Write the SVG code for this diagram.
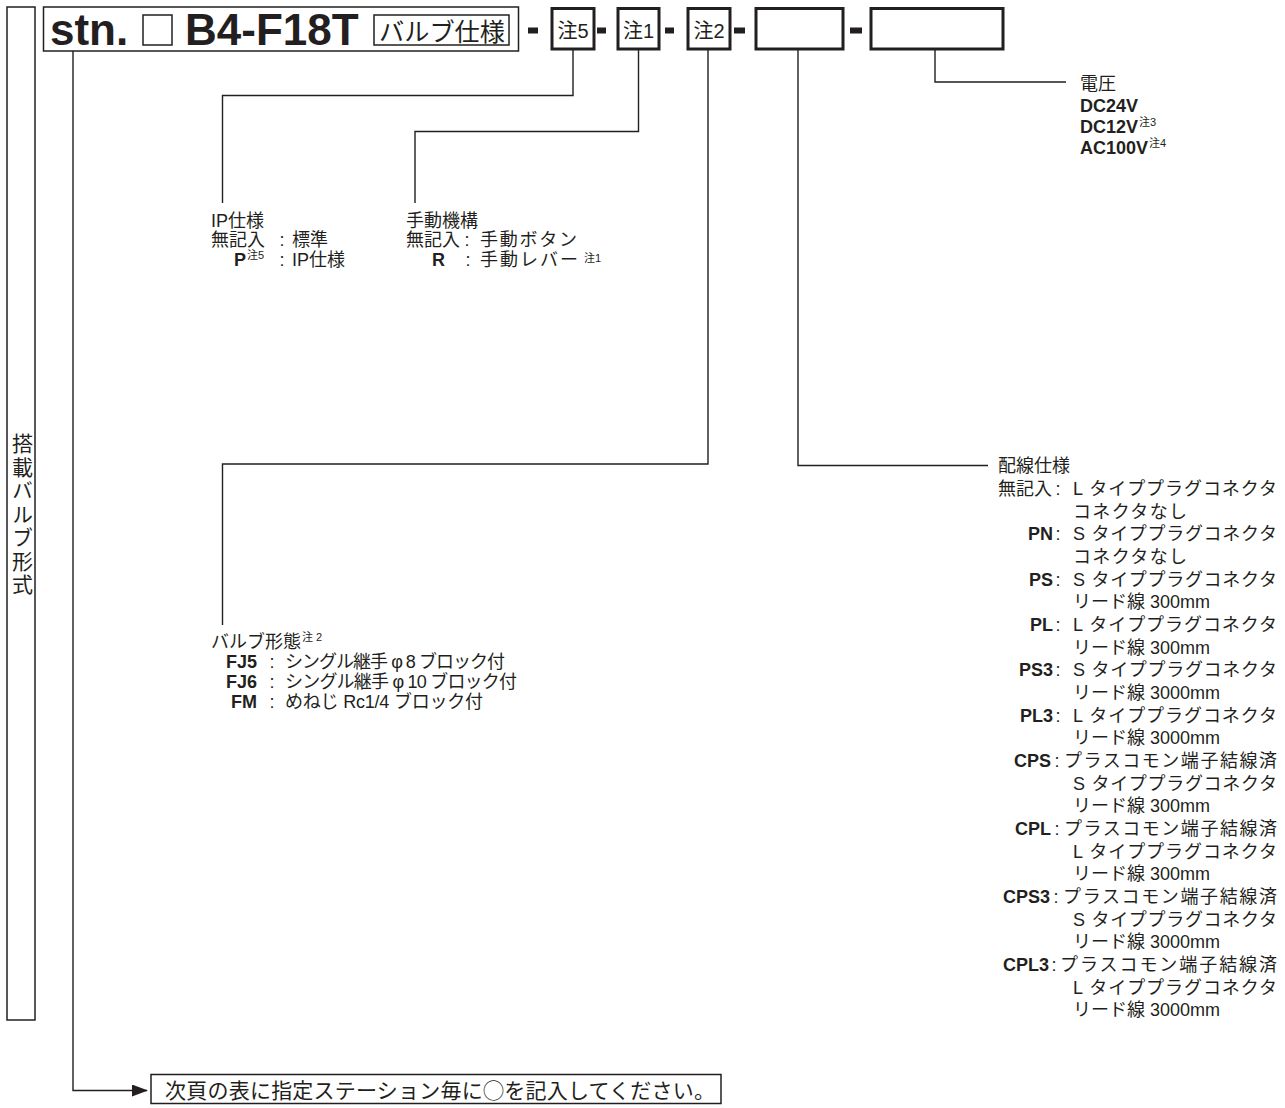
<svg xmlns="http://www.w3.org/2000/svg" width="1285" height="1108" viewBox="0 0 1285 1108">
<style>
text{font-family:"Liberation Sans","Noto Sans CJK JP",sans-serif;fill:#231f20}
.t{font-size:18px}
.b{font-weight:bold}
.c{font-size:18px;text-anchor:middle}
.e{text-anchor:end}
.sup{font-size:11px;font-weight:normal}
.ln{fill:none;stroke:#231f20;stroke-width:1.4}
.thick{fill:#fff;stroke:#231f20;stroke-width:3}
.thin{fill:#fff;stroke:#231f20;stroke-width:1.5}
.dash{fill:#231f20}
</style>
<defs>
<marker id="ah" markerWidth="16" markerHeight="12" refX="15" refY="6" orient="auto" markerUnits="userSpaceOnUse">
<path d="M0,0 L16,6 L0,12 Z" fill="#231f20"/>
</marker>
</defs>
<rect width="1285" height="1108" fill="#fff"/>

<g id="connectors">
<polyline class="ln" points="573,50 573,95.5 222.5,95.5 222.5,203"/>
<polyline class="ln" points="638.5,50 638.5,131.5 415,131.5 415,203"/>
<polyline class="ln" points="708,50 708,464 222.5,464 222.5,625"/>
<polyline class="ln" points="798,50 798,465.5 988,465.5"/>
<polyline class="ln" points="935,50 935,82 1066,82"/>
<polyline class="ln" points="73,50 73,1090.5 147,1090.5" stroke-width="2" marker-end="url(#ah)"/>
</g>

<g id="side-label">
<rect class="thin" x="7" y="7" width="28" height="1013"/>
<text x="21" y="433" font-size="21" writing-mode="vertical-rl" letter-spacing="2.5">搭載バルブ形式</text>
</g>

<g id="model-code">
<rect class="thin" x="43.5" y="7" width="475" height="44" stroke-width="2"/>
<text x="50" y="45" font-size="44" class="b">stn.</text>
<rect class="thin" x="143" y="15" width="29" height="30"/>
<text x="185" y="45" font-size="44" class="b">B4-F18T</text>
<rect class="thin" x="374" y="15" width="135" height="30"/>
<text x="379" y="41" font-size="25" textLength="126" lengthAdjust="spacingAndGlyphs">バルブ仕様</text>
</g>

<g id="dashes">
<rect class="dash" x="528" y="27.5" width="10" height="6"/>
<rect class="dash" x="597" y="27.5" width="9" height="6"/>
<rect class="dash" x="665" y="27.5" width="9" height="6"/>
<rect class="dash" x="734" y="27.5" width="11" height="6"/>
<rect class="dash" x="850" y="27.5" width="12" height="6"/>
</g>

<g id="box-note5">
<rect class="thick" x="552" y="8.5" width="42" height="40.5"/>
<text x="573" y="38" font-size="20" text-anchor="middle">注5</text>
</g>
<g id="box-note1">
<rect class="thick" x="618" y="8.5" width="41" height="40.5"/>
<text x="638.5" y="38" font-size="20" text-anchor="middle">注1</text>
</g>
<g id="box-note2">
<rect class="thick" x="688" y="8.5" width="42" height="40.5"/>
<text x="709" y="38" font-size="20" text-anchor="middle">注2</text>
</g>
<g id="box-wiring">
<rect class="thick" x="756" y="8.5" width="87" height="40.5"/>
</g>
<g id="box-voltage">
<rect class="thick" x="871" y="8.5" width="132" height="40.5"/>
</g>

<g id="voltage">
<text x="1080" y="90" class="t">電圧</text>
<text x="1080" y="112" font-size="18" class="b">DC24V</text>
<text x="1080" y="133" font-size="18" class="b">DC12V<tspan class="sup" dx="1" dy="-7">注3</tspan></text>
<text x="1080" y="154" font-size="18" class="b">AC100V<tspan class="sup" dx="1" dy="-7">注4</tspan></text>
</g>

<g id="ip-spec">
<text x="211" y="227" class="t">IP仕様</text>
<text x="211" y="246" class="t">無記入</text>
<text x="282" y="246" class="c">:</text>
<text x="292" y="246" class="t">標準</text>
<text x="234" y="266" class="t b">P<tspan class="sup" dx="1" dy="-7">注5</tspan></text>
<text x="282" y="266" class="c">:</text>
<text x="292" y="266" class="t">IP仕様</text>
</g>

<g id="manual">
<text x="406" y="227" class="t">手動機構</text>
<text x="406" y="246" class="t">無記入</text>
<text x="467" y="246" class="c">:</text>
<text x="480" y="246" class="t" textLength="97" lengthAdjust="spacing">手動ボタン</text>
<text x="432" y="266" class="t b">R</text>
<text x="468" y="266" class="c">:</text>
<text x="480" y="266" class="t" textLength="98" lengthAdjust="spacing">手動レバー</text>
<text x="584" y="262" class="sup">注1</text>
</g>

<g id="valve-form">
<text x="211" y="648" class="t">バルブ形態<tspan class="sup" dx="1" dy="-7">注 2</tspan></text>
<text x="257" y="668" class="t b e">FJ5</text>
<text x="272" y="668" class="c">:</text>
<text x="285" y="668" class="t" textLength="220" lengthAdjust="spacing">シングル継手 φ 8 ブロック付</text>
<text x="257" y="688" class="t b e">FJ6</text>
<text x="272" y="688" class="c">:</text>
<text x="285" y="688" class="t" textLength="232" lengthAdjust="spacing">シングル継手 φ 10 ブロック付</text>
<text x="257" y="708" class="t b e">FM</text>
<text x="272" y="708" class="c">:</text>
<text x="285" y="708" class="t" textLength="198" lengthAdjust="spacing">めねじ Rc1/4 ブロック付</text>
</g>

<g id="wiring">
<text x="998" y="472" class="t">配線仕様</text>
<text x="998" y="495" class="t">無記入</text>
<text x="1058" y="495" class="c">:</text>
<text x="1073" y="495" class="t" textLength="204" lengthAdjust="spacing">L タイププラグコネクタ</text>
<text x="1073" y="518" class="t" textLength="114" lengthAdjust="spacing">コネクタなし</text>

<text x="1053" y="540" class="t b e">PN</text>
<text x="1058" y="540" class="c">:</text>
<text x="1073" y="540" class="t" textLength="204" lengthAdjust="spacing">S タイププラグコネクタ</text>
<text x="1073" y="563" class="t" textLength="114" lengthAdjust="spacing">コネクタなし</text>

<text x="1053" y="586" class="t b e">PS</text>
<text x="1058" y="586" class="c">:</text>
<text x="1073" y="586" class="t" textLength="204" lengthAdjust="spacing">S タイププラグコネクタ</text>
<text x="1073" y="608" class="t">リード線 300mm</text>

<text x="1053" y="631" class="t b e">PL</text>
<text x="1058" y="631" class="c">:</text>
<text x="1073" y="631" class="t" textLength="204" lengthAdjust="spacing">L タイププラグコネクタ</text>
<text x="1073" y="654" class="t">リード線 300mm</text>

<text x="1053" y="676" class="t b e">PS3</text>
<text x="1058" y="676" class="c">:</text>
<text x="1073" y="676" class="t" textLength="204" lengthAdjust="spacing">S タイププラグコネクタ</text>
<text x="1073" y="699" class="t">リード線 3000mm</text>

<text x="1053" y="722" class="t b e">PL3</text>
<text x="1058" y="722" class="c">:</text>
<text x="1073" y="722" class="t" textLength="204" lengthAdjust="spacing">L タイププラグコネクタ</text>
<text x="1073" y="744" class="t">リード線 3000mm</text>

<text x="1051" y="767" class="t b e">CPS</text>
<text x="1057" y="767" class="c">:</text>
<text x="1064" y="767" class="t" textLength="213" lengthAdjust="spacing">プラスコモン端子結線済</text>
<text x="1073" y="790" class="t" textLength="204" lengthAdjust="spacing">S タイププラグコネクタ</text>
<text x="1073" y="812" class="t">リード線 300mm</text>

<text x="1051" y="835" class="t b e">CPL</text>
<text x="1057" y="835" class="c">:</text>
<text x="1064" y="835" class="t" textLength="213" lengthAdjust="spacing">プラスコモン端子結線済</text>
<text x="1073" y="858" class="t" textLength="204" lengthAdjust="spacing">L タイププラグコネクタ</text>
<text x="1073" y="880" class="t">リード線 300mm</text>

<text x="1050" y="903" class="t b e">CPS3</text>
<text x="1056" y="903" class="c">:</text>
<text x="1063" y="903" class="t" textLength="214" lengthAdjust="spacing">プラスコモン端子結線済</text>
<text x="1073" y="926" class="t" textLength="204" lengthAdjust="spacing">S タイププラグコネクタ</text>
<text x="1073" y="948" class="t">リード線 3000mm</text>

<text x="1049" y="971" class="t b e">CPL3</text>
<text x="1054" y="971" class="c">:</text>
<text x="1060" y="971" class="t" textLength="217" lengthAdjust="spacing">プラスコモン端子結線済</text>
<text x="1073" y="994" class="t" textLength="204" lengthAdjust="spacing">L タイププラグコネクタ</text>
<text x="1073" y="1016" class="t">リード線 3000mm</text>
</g>

<g id="note-box">
<rect class="thin" x="151" y="1074.5" width="570" height="29" stroke-width="2.5"/>
<text x="165" y="1098" font-size="21" textLength="550" lengthAdjust="spacing">次頁の表に指定ステーション毎に◯を記入してください。</text>
</g>
</svg>
